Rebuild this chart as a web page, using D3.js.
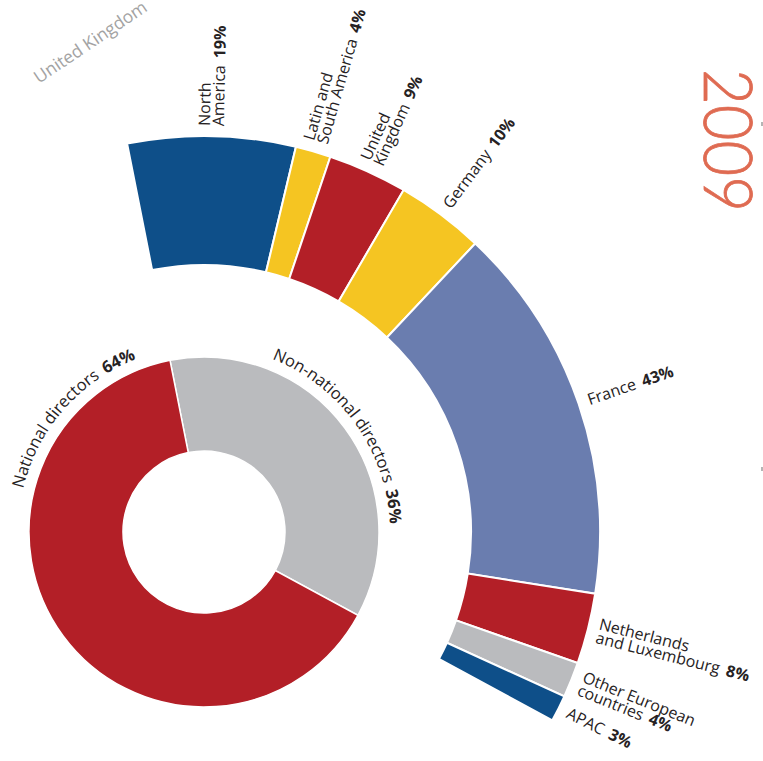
<!DOCTYPE html>
<html>
<head>
<meta charset="utf-8">
<script src="https://cdn.jsdelivr.net/npm/d3@7/dist/d3.min.js"></script>
<style>
  html, body { margin: 0; padding: 0; background: #fff; }
  svg { display: block; font-family: "Open Sans", "Noto Sans", sans-serif; }
</style>
</head>
<body>
<svg id="chart" width="763" height="761"></svg>
<script>
// Board composition: nationality split (inner ring) and
// breakdown of non-national directors by origin (outer ring).
const directorGroups = ["Non-national directors", "National directors"];
const directorShares = [36, 64];

const regionNames = [
  "North\nAmerica",
  "Latin and\nSouth America",
  "United\nKingdom",
  "Germany",
  "France",
  "Netherlands\nand Luxembourg",
  "Other European\ncountries",
  "APAC"
];
const regionShares = [19, 4, 9, 10, 43, 8, 4, 3];

const yearLabel = "2009";

const groupColors = ["#babbbe", "#b31f27"];
const regionColors = ["#0e4f89", "#f5c522", "#b31f27", "#f5c522", "#6a7daf", "#b31f27", "#babbbe", "#0e4f89"];

const svg = d3.select("#chart");
const cx = 204, cy = 532;
const deg = Math.PI / 180;
const textColor = "#262223";

const g = svg.append("g").attr("transform", `translate(${cx},${cy})`);

// Inner ring: the split starts just left of twelve o'clock
const splitAngle = -11.2 * deg;
const innerPie = d3.pie().sort(null)
  .startAngle(splitAngle)
  .endAngle(splitAngle + 2 * Math.PI);
const innerSlices = innerPie(directorShares);
const innerArc = d3.arc().innerRadius(81).outerRadius(175);

g.selectAll("path.inner")
  .data(innerSlices)
  .join("path")
  .attr("class", "inner")
  .attr("d", innerArc)
  .attr("fill", (d, i) => groupColors[i])
  .attr("stroke", "#fff")
  .attr("stroke-width", 1.5);

// Outer ring spans exactly the non-national slice
const nonNational = innerSlices[0];
const outerPie = d3.pie().sort(null)
  .startAngle(nonNational.startAngle)
  .endAngle(nonNational.endAngle);
const outerSlices = outerPie(regionShares);
const outerArc = d3.arc().innerRadius(267).outerRadius(396);

g.selectAll("path.outer")
  .data(outerSlices)
  .join("path")
  .attr("class", "outer")
  .attr("d", outerArc)
  .attr("fill", (d, i) => regionColors[i])
  .attr("stroke", "#fff")
  .attr("stroke-width", 2);

// Radial labels for the outer ring
const labelRadius = 406;
const lineHeight = 14;
const outerLabels = g.selectAll("g.rlabel")
  .data(outerSlices)
  .join("g")
  .attr("class", "rlabel")
  .attr("transform", d => {
    const mid = (d.startAngle + d.endAngle) / 2 / deg;
    return `rotate(${mid - 90}) translate(${labelRadius},0)`;
  });

outerLabels.each(function(d, i) {
  const lines = regionNames[i].split("\n");
  const t = d3.select(this).append("text")
    .attr("fill", textColor)
    .attr("font-size", 16);
  lines.forEach((line, k) => {
    const y = (k - (lines.length - 1) / 2) * lineHeight + 5;
    t.append("tspan").attr("x", 0).attr("y", y).text(line);
    if (k === lines.length - 1) {
      t.append("tspan")
        .attr("dx", 7)
        .attr("font-weight", 700)
        .text(regionShares[i] + "%");
    }
  });
});

// Curved labels hugging the inner ring
const labelArcRadius = 186;
const defs = svg.append("defs");
const curveStarts = [21.5, -76.5];
const curveSpan = 100;
directorGroups.forEach((name, i) => {
  const a0 = curveStarts[i] * deg - Math.PI / 2;
  const p = d3.path();
  p.arc(0, 0, labelArcRadius, a0, a0 + curveSpan * deg, false);
  defs.append("path").attr("id", "curve" + i).attr("d", p.toString());
  const t = g.append("text")
    .attr("fill", textColor)
    .attr("font-size", 16.5);
  const tp = t.append("textPath").attr("href", "#curve" + i);
  tp.append("tspan").text(name);
  tp.append("tspan").attr("dx", 7).attr("font-weight", 700).text(directorShares[i] + "%");
});

// Year title, set vertically on the right
svg.append("text")
  .attr("transform", "translate(704,69) rotate(90)")
  .attr("font-family", "Lato, 'Open Sans', sans-serif")
  .attr("font-weight", 300)
  .attr("font-size", 67)
  .attr("fill", "#df6b52")
  .attr("stroke", "#df6b52")
  .attr("stroke-width", 0.8)
  .attr("textLength", 143)
  .attr("lengthAdjust", "spacingAndGlyphs")
  .text(yearLabel);

// Faded neighbouring label at the top-left corner
svg.append("text")
  .attr("transform", "translate(39,84) rotate(-34)")
  .attr("font-size", 17.5)
  .attr("fill", "#a3a3a3")
  .text("United Kingdom");

// Small edge ticks on the right margin
[124, 469].forEach(y => {
  svg.append("rect")
    .attr("x", 761).attr("y", y - 2)
    .attr("width", 2).attr("height", 4)
    .attr("fill", "#b5b5b5");
});
</script>
</body>
</html>
